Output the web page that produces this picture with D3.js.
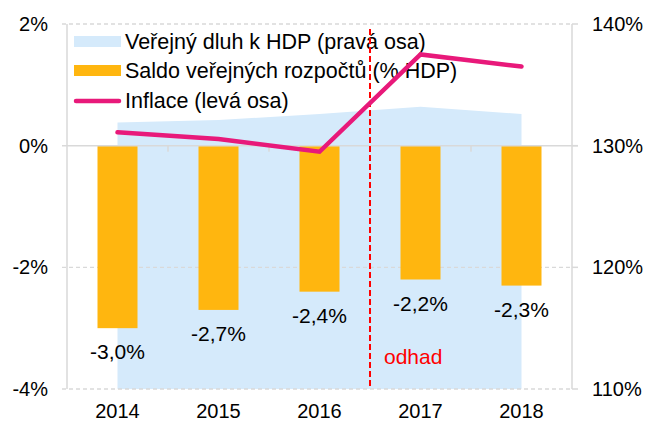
<!DOCTYPE html>
<html>
<head>
<meta charset="utf-8">
<script src="https://cdn.jsdelivr.net/npm/d3@7"></script>
<style>
  body { margin: 0; background: #fff; }
  text { font-family: "Liberation Sans", Arial, sans-serif; }
</style>
</head>
<body>
<div id="chart"></div>
<script>
// data
var years = ["2014", "2015", "2016", "2017", "2018"];
var saldo = [-3.0, -2.7, -2.4, -2.2, -2.3];           // % HDP, left axis
var inflace = [0.22, 0.11, -0.10, 1.50, 1.30];        // %, left axis
var dluh = [131.9, 132.1, 132.6, 133.2, 132.6];       // % HDP, right axis
var leftTicks = [-4, -2, 0, 2];
var rightTicks = [110, 120, 130, 140];
var legendItems = ["Veřejný dluh k HDP (pravá osa)", "Saldo veřejných rozpočtů (% HDP)", "Inflace (levá osa)"];

var w = 648, h = 426;
var pLeft = 67, pRight = 572, pTop = 24, pBottom = 389;

var svg = d3.select("#chart").append("svg")
    .attr("width", w)
    .attr("height", h);

var x = d3.scaleBand().domain(years).range([pLeft, pRight]).padding(0);
var yL = d3.scaleLinear().domain([-4, 2]).range([pBottom, pTop]);
var yR = d3.scaleLinear().domain([110, 140]).range([pBottom, pTop]);
var cx = d => x(d) + x.bandwidth() / 2;

var fmt = d => (d + "").replace(".", ",");

// debt area (right axis)
var area = d3.area()
    .x((d, i) => cx(years[i]))
    .y0(yR(110))
    .y1(d => yR(d));

svg.append("path")
    .datum(dluh)
    .attr("d", area)
    .attr("fill", "#d5eafb");

// gridlines
svg.selectAll(".grid")
    .data(leftTicks.filter(d => d != 0))
    .enter()
    .append("line")
    .attr("x1", pLeft - 5).attr("x2", pRight)
    .attr("y1", d => yL(d)).attr("y2", d => yL(d))
    .attr("stroke", "#d9d9d9")
    .attr("stroke-width", 1.3)
    .attr("stroke-dasharray", "4,3");

// axis lines + right ticks
svg.append("line").attr("x1", pLeft).attr("x2", pLeft).attr("y1", pTop).attr("y2", pBottom)
    .attr("stroke", "#d9d9d9").attr("stroke-width", 1.5);
svg.append("line").attr("x1", pRight).attr("x2", pRight).attr("y1", pTop).attr("y2", pBottom)
    .attr("stroke", "#d9d9d9").attr("stroke-width", 1.5);
svg.selectAll(".rt")
    .data(rightTicks)
    .enter()
    .append("line")
    .attr("x1", pRight).attr("x2", pRight + 6)
    .attr("y1", d => yR(d)).attr("y2", d => yR(d))
    .attr("stroke", "#d9d9d9").attr("stroke-width", 1.5);

// legend (drawn under the series)
var leg = svg.append("g");
var legY = [42, 71, 101];
leg.append("rect").attr("x", 74).attr("y", legY[0] - 6).attr("width", 47).attr("height", 11).attr("fill", "#d5eafb");
leg.append("rect").attr("x", 74).attr("y", legY[1] - 6).attr("width", 47).attr("height", 11).attr("fill", "#ffb60f");
leg.append("line").attr("x1", 76).attr("x2", 119).attr("y1", legY[2]).attr("y2", legY[2])
    .attr("stroke", "#e8197a").attr("stroke-width", 4.5).attr("stroke-linecap", "round");
leg.selectAll("text")
    .data(legendItems)
    .enter()
    .append("text")
    .attr("x", 125)
    .attr("y", (d, i) => legY[i] + 7)
    .attr("font-size", 21.5)
    .attr("fill", "#000")
    .text(d => d);

// bars
svg.selectAll(".bar")
    .data(saldo)
    .enter()
    .append("rect")
    .attr("x", (d, i) => cx(years[i]) - 20)
    .attr("width", 40)
    .attr("y", yL(0))
    .attr("height", d => yL(d) - yL(0))
    .attr("fill", "#ffb60f");

// zero line with category ticks
svg.append("line").attr("x1", pLeft - 5).attr("x2", pRight + 6).attr("y1", yL(0)).attr("y2", yL(0))
    .attr("stroke", "#d9d9d9").attr("stroke-width", 1.5);
svg.selectAll(".xtick")
    .data(years.slice(1))
    .enter()
    .append("line")
    .attr("x1", d => x(d)).attr("x2", d => x(d))
    .attr("y1", yL(0)).attr("y2", yL(0) + 6)
    .attr("stroke", "#d9d9d9").attr("stroke-width", 1.5);

// bar labels
svg.selectAll(".blab")
    .data(saldo)
    .enter()
    .append("text")
    .attr("x", (d, i) => cx(years[i]))
    .attr("y", d => yL(d) + 31)
    .attr("text-anchor", "middle")
    .attr("font-size", 21)
    .text(d => fmt(d.toFixed(1)) + "%");

// forecast divider
svg.append("line")
    .attr("x1", x("2017")).attr("x2", x("2017"))
    .attr("y1", 29).attr("y2", pBottom)
    .attr("stroke", "#ff0000").attr("stroke-width", 2)
    .attr("stroke-dasharray", "6,3");
svg.append("text")
    .attr("x", x("2017") + 14)
    .attr("y", 364)
    .attr("font-size", 21)
    .attr("fill", "#ff0000")
    .text("odhad");

// inflation line
var line = d3.line()
    .x((d, i) => cx(years[i]))
    .y(d => yL(d));

svg.append("path")
    .datum(inflace)
    .attr("d", line)
    .attr("fill", "none")
    .attr("stroke", "#e8197a")
    .attr("stroke-width", 4.5)
    .attr("stroke-linecap", "round");

// axis labels
svg.selectAll(".ltick")
    .data(leftTicks)
    .enter()
    .append("text")
    .attr("x", 48)
    .attr("y", d => yL(d) + 7)
    .attr("text-anchor", "end")
    .attr("font-size", 20)
    .text(d => d + "%");

svg.selectAll(".rtick")
    .data(rightTicks)
    .enter()
    .append("text")
    .attr("x", 592)
    .attr("y", d => yR(d) + 7)
    .attr("font-size", 20)
    .text(d => d + "%");

svg.selectAll(".xlab")
    .data(years)
    .enter()
    .append("text")
    .attr("x", d => cx(d))
    .attr("y", 418)
    .attr("text-anchor", "middle")
    .attr("font-size", 20)
    .text(d => d);
</script>
</body>
</html>
